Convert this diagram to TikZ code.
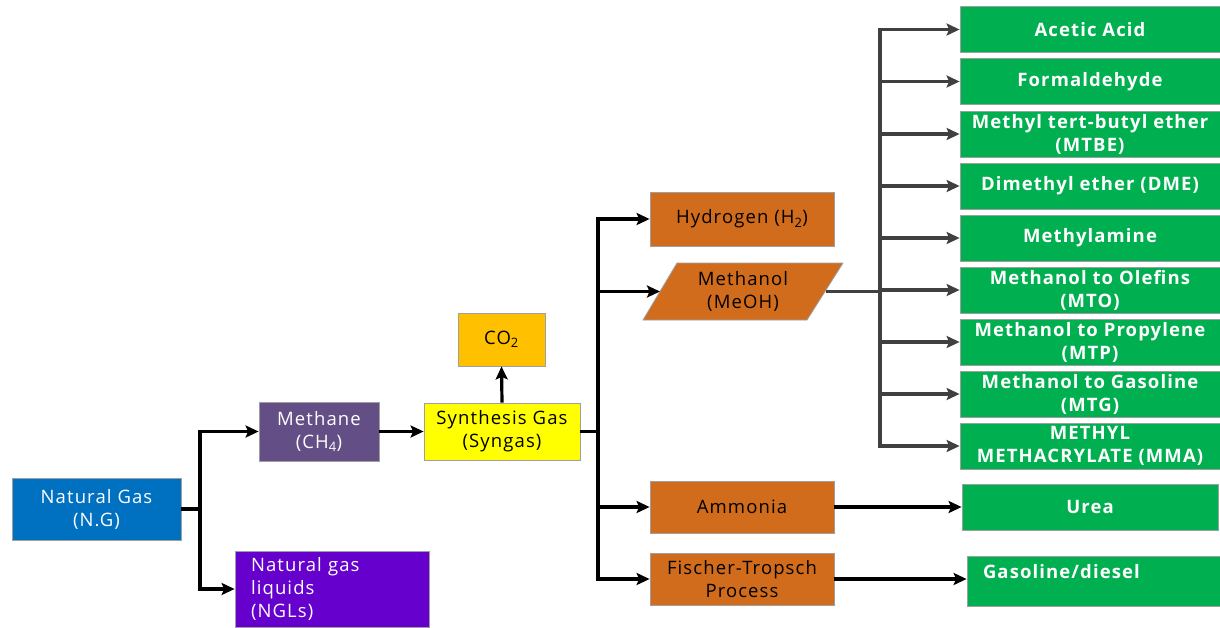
\documentclass[tikz,border=0pt]{standalone}
\usepackage{fontspec}
\setmainfont{Open Sans}[LetterSpace=6]
\usetikzlibrary{arrows.meta}
\definecolor{ngblue}{HTML}{0070C0}
\definecolor{methpurple}{HTML}{634F86}
\definecolor{nglpurple}{HTML}{6600CC}
\definecolor{syny}{HTML}{FFFF00}
\definecolor{coorange}{HTML}{FFC000}
\definecolor{brown}{HTML}{D16C1D}
\definecolor{prodgreen}{HTML}{00B050}
\definecolor{darkline}{HTML}{404040}
\begin{document}
\begin{tikzpicture}[x=1pt,y=-1pt,
  box/.style={draw=gray!75, line width=0.8pt, inner sep=0pt, align=center,
    font=\fontsize{18.5}{23}\selectfont},
  orbox/.style={box, fill=brown, text=black, minimum width=184pt, minimum height=53pt},
  grbox/.style={box, fill=prodgreen, text=white, font=\fontsize{18.5}{23}\selectfont\bfseries,
    minimum width=260pt, minimum height=46pt},
  conn/.style={line width=3.2pt, -{Stealth[length=13pt,width=12pt,inset=2.5pt]}},
  plain/.style={line width=3.2pt},
  gconn/.style={line width=3.2pt, draw=darkline, -{Stealth[length=13pt,width=12pt,inset=2.5pt]}, color=darkline},
  gplain/.style={line width=3.2pt, draw=darkline}]
\useasboundingbox (0,0) rectangle (1220,627);

% left part
\node[box, fill=ngblue, text=white, minimum width=169pt, minimum height=62pt] (ng) at (96.5,509) {Natural Gas\\(N.G)};
\node[box, fill=methpurple, text=white, minimum width=120pt, minimum height=59pt] (methane) at (319,431.5) {Methane\\(CH\textsubscript{4})};
\node[box, fill=nglpurple, text=white, minimum width=194pt, minimum height=76pt, text width=162pt, align=left] (ngl) at (332,589) {Natural gas\\liquids\\(NGLs)};
\node[box, fill=syny, text=black, minimum width=156pt, minimum height=57pt] (syngas) at (502,431.5) {Synthesis Gas\\(Syngas)};
\node[box, fill=coorange, text=black, minimum width=87pt, minimum height=53pt] (co2) at (501.5,339.5) {CO\textsubscript{2}};

% middle
\node[orbox, minimum height=54pt] (h2) at (742,219) {Hydrogen (H\textsubscript{2})};
\draw[draw=gray!75, line width=0.8pt, fill=brown] (677,263) -- (843,263) -- (807,320) -- (643,320) -- cycle;
\node[inner sep=0pt, align=center, font=\fontsize{18.5}{23}\selectfont] (meoh) at (743,291.5) {Methanol\\(MeOH)};
\coordinate (meohL) at (660,291.5);
\coordinate (meohR) at (826,291.5);
\node[orbox, minimum height=52pt] (ammonia) at (742,507) {Ammonia};
\node[orbox, minimum height=52pt] (ft) at (742,579) {Fischer-Tropsch\\Process};

% products
\node[grbox] (g1) at (1090,29.5) {Acetic Acid};
\node[grbox] (g2) at (1090,81.5) {Formaldehyde};
\node[grbox] (g3) at (1090,134) {Methyl tert-butyl ether\\(MTBE)};
\node[grbox] (g4) at (1090,186) {Dimethyl ether (DME)};
\node[grbox] (g5) at (1090,238) {Methylamine};
\node[grbox] (g6) at (1090,290) {Methanol to Olefins\\(MTO)};
\node[grbox] (g7) at (1090,342) {Methanol to Propylene\\(MTP)};
\node[grbox] (g8) at (1090,394) {Methanol to Gasoline\\(MTG)};
\node[grbox] (g9) at (1090,446) {METHYL\\METHACRYLATE (MMA)};
\node[grbox, minimum width=256pt] (urea) at (1090,507) {Urea};
\node[grbox, minimum width=253pt, minimum height=50pt, text width=221pt, align=left, text depth=19pt] (gas) at (1093.5,581) {Gasoline/diesel};

% junctions
\coordinate (j1) at (200,509);
\coordinate (j2) at (598,431.5);
\coordinate (j3) at (880,291.5);

% connectors
\draw[plain] (ng.east) -- (j1);
\draw[conn] (j1) |- (methane.west);
\draw[conn] (j1) |- (ngl.west);
\draw[conn] (methane.east) -- (syngas.west);
\draw[conn] (syngas.north) -- (co2.south);
\draw[plain] (syngas.east) -- (j2);
\draw[conn] (j2) |- (h2.west);
\draw[conn] (j2) |- (meohL);
\draw[conn] (j2) |- (ammonia.west);
\draw[conn] (j2) |- (ft.west);
\draw[gplain] (meohR) -- (j3);
\foreach \g in {g1,g2,g3,g4,g5,g6,g7,g8,g9}{
  \draw[gconn] (j3) |- (\g.west);
}
\draw[conn] (ammonia.east) -- (urea.west);
\draw[conn] (ft.east) -- (ft.east -| gas.west);
\end{tikzpicture}
\end{document}
